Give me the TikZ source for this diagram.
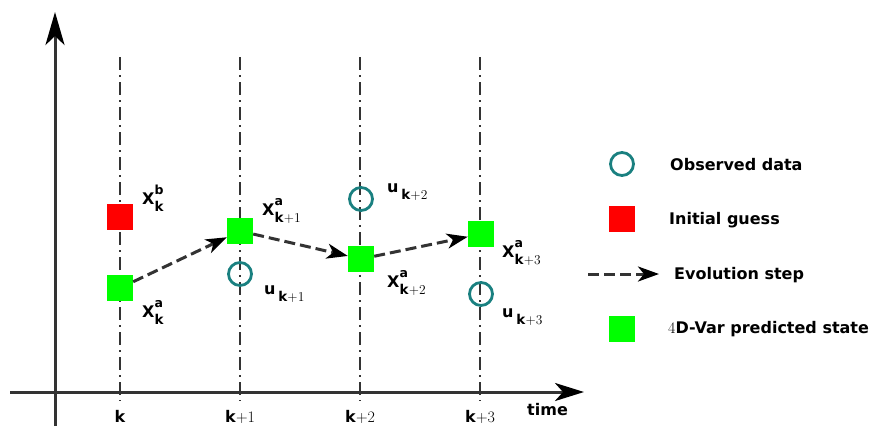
\documentclass[tikz,border=0pt]{standalone}
\usepackage{fontspec}
\setsansfont{DejaVu Sans}
\usetikzlibrary{arrows.meta}
\definecolor{obsc}{HTML}{1A8080}
\definecolor{axc}{HTML}{333333}
\newcommand\sv[3]{#1\rlap{\raisebox{10pt}{\fontsize{12.5}{12}\selectfont #2}}\raisebox{-7.5pt}{\fontsize{13.5}{13}\selectfont #3}}
\newcommand\kk[1]{\textbf{k}{\rmfamily\mdseries #1}}
\begin{document}
\begin{tikzpicture}[x=1pt,y=-1pt,
  gridl/.style={draw=axc,line width=1.7pt,dash pattern=on 13pt off 5pt on 2pt off 5pt},
  axisl/.style={draw=axc,line width=3pt},
  sq/.style={rectangle,minimum size=26pt,inner sep=0pt},
  obs/.style={circle,draw=obsc,line width=2.8pt,minimum size=23pt,inner sep=0pt},
  evo/.style={draw=axc,line width=3pt,dash pattern=on 11pt off 5pt,
    -{Stealth[length=21pt,width=15pt,inset=6pt,color=black,fill=black]}},
  lab/.style={anchor=base west,inner sep=0pt,font=\sffamily\bfseries\fontsize{16}{17}\selectfont},
  tick/.style={anchor=base,inner sep=0pt,font=\sffamily\bfseries\fontsize{16}{17}\selectfont}]
\useasboundingbox (0,0) rectangle (874,426);
% axes
\coordinate (yb) at (55,426);
\coordinate (yt) at (55,12);
\coordinate (xl) at (10,392);
\coordinate (xr) at (584,392);
\draw[axisl,-{Stealth[length=33pt,width=19pt,inset=9pt,color=black,fill=black]}] (yb) -- (yt);
\draw[axisl,-{Stealth[length=29pt,width=18pt,inset=8pt,color=black,fill=black]}] (xl) -- (xr);
% grid lines
\foreach \x/\n in {120/0,240/1,360/2,480/3}{
  \coordinate (t\n) at (\x,57);
  \coordinate (b\n) at (\x,401);
  \draw[gridl] (t\n) -- (b\n);
}
% tick labels
\node[tick] (l0) at (120,422) {k};
\node[tick] (l1) at (240,422) {\kk{+1}};
\node[tick] (l2) at (360,422) {\kk{+2}};
\node[tick] (l3) at (480,422) {\kk{+3}};
\node[lab] (time) at (527,415) {time};
% states
\node[sq,fill=red] (rk) at (120,217) {};
\node[sq,fill=green] (gk) at (120,288) {};
\node[sq,fill=green] (gk1) at (240,231) {};
\node[sq,fill=green] (gk2) at (361,259) {};
\node[sq,fill=green] (gk3) at (481,234) {};
\node[obs] (ok1) at (240,274) {};
\node[obs] (ok2) at (361,199) {};
\node[obs] (ok3) at (481,294) {};
% evolution arrows
\draw[evo] (gk) -- (gk1);
\draw[evo] (gk1) -- (gk2);
\draw[evo] (gk2) -- (gk3);
% labels
\node[lab] (xb) at (142,204) {\sv{X}{b}{k}};
\node[lab] (xa0) at (142,317) {\sv{X}{a}{k}};
\node[lab] (xa1) at (262,215) {\sv{X}{a}{\kk{+1}}};
\node[lab] (xa2) at (387,287) {\sv{X}{a}{\kk{+2}}};
\node[lab] (xa3) at (502,257) {\sv{X}{a}{\kk{+3}}};
\node[lab] (u1) at (264,294) {u\,\sv{}{}{\kk{+1}}};
\node[lab] (u2) at (387,192) {u\,\sv{}{}{\kk{+2}}};
\node[lab] (u3) at (502,317) {u\,\sv{}{}{\kk{+3}}};
% legend
\node[obs] (lo) at (622,164) {};
\node[lab] (lot) at (670,170) {Observed data};
\node[sq,fill=red] (lr) at (622,219) {};
\node[lab] (lrt) at (669,224) {Initial guess};
\coordinate (la1) at (588,274);
\coordinate (la2) at (659,274);
\draw[evo] (la1) -- (la2);
\node[lab] (lat) at (674,279) {Evolution step};
\node[sq,fill=green] (lg) at (622,329) {};
\node[lab] (lgt) at (668,333) {{\rmfamily\mdseries 4}D-Var predicted state};
\end{tikzpicture}
\end{document}
